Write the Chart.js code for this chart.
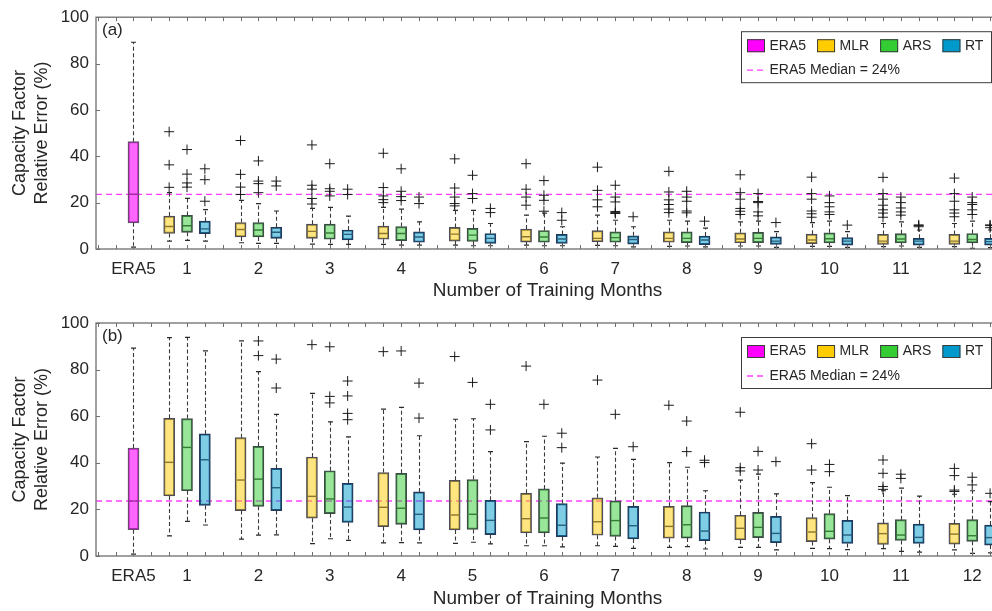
<!DOCTYPE html>
<html>
<head>
<meta charset="utf-8">
<script src="https://cdn.jsdelivr.net/npm/chart.js@4.4.1/dist/chart.umd.min.js"></script>
<style>
  html, body { margin: 0; padding: 0; background: #fff; overflow: hidden; }
  #wrap { width: 1010px; }
  canvas { display: block; }
</style>
</head>
<body>
<div id="wrap">
  <canvas id="panelA" width="1010" height="305"></canvas>
  <canvas id="panelB" width="1010" height="306"></canvas>
</div>
<script>
// ---- data: each box is [whisker low, Q1, median, Q3, whisker high] in % ----
const months = ['1','2','3','4','5','6','7','8','9','10','11','12'];
const methods = ['MLR', 'ARS', 'RT'];

const era5Box = [0.8, 11.3, 23.6, 46.3, 89.2];

// (a)
const mlrA = [
  [3.4, 6.7, 9.7, 14.2, 24.3], [2.7, 5.2, 8.4, 11.4, 21.0], [2.1, 4.6, 7.6, 10.7, 17.5],
  [2.0, 4.2, 6.7, 9.9, 18.0],  [1.7, 3.4, 6.4, 9.3, 16.7],  [1.7, 3.0, 5.3, 8.6, 14.6],
  [1.6, 3.1, 4.6, 7.9, 14.6],  [1.1, 2.9, 4.6, 7.4, 12.4],  [1.3, 2.6, 4.3, 7.0, 11.7],
  [1.1, 2.3, 3.9, 6.4, 11.4],  [1.0, 2.0, 3.4, 6.3, 11.0],  [1.0, 2.0, 3.4, 6.3, 11.0]
];
const arsA = [
  [3.7, 7.2, 10.0, 14.5, 21.8], [2.4, 5.2, 8.2, 11.4, 19.6], [2.0, 4.2, 6.9, 10.7, 18.0],
  [1.7, 3.6, 6.7, 9.7, 17.2],   [1.4, 3.3, 6.0, 8.9, 16.7],  [1.4, 2.9, 5.2, 8.0, 15.5],
  [1.4, 2.9, 4.9, 7.4, 12.4],   [1.3, 2.7, 4.6, 7.4, 12.0],  [1.3, 2.7, 4.6, 7.2, 12.0],
  [1.1, 2.6, 4.4, 7.0, 12.0],   [1.3, 2.6, 4.3, 6.6, 11.7],  [0.3, 2.6, 4.1, 6.7, 12.0]
];
const rtA = [
  [3.4, 6.6, 8.7, 12.0, 17.0], [2.4, 4.6, 7.2, 9.4, 16.4], [2.0, 3.9, 6.3, 8.2, 14.2],
  [1.7, 2.9, 5.2, 7.4, 11.7],  [1.4, 2.4, 4.6, 6.7, 11.0], [1.4, 2.4, 4.3, 6.3, 9.6],
  [0.9, 2.1, 4.1, 5.7, 9.6],   [0.9, 1.9, 3.9, 5.6, 9.0],  [0.7, 2.0, 3.4, 5.2, 7.5],
  [0.7, 1.7, 3.4, 4.9, 7.5],   [0.7, 1.7, 3.4, 4.6, 8.2],  [0.6, 1.7, 3.2, 4.6, 8.2]
];
const mlrAOut = [
  [26.6, 36.3, 50.6], [23.5, 26.7, 32.2, 46.8], [19.4, 21.8, 25.8, 27.5, 44.9],
  [20.0, 21.3, 22.9, 26.5, 41.3], [18.6, 19.6, 22.4, 26.3, 38.9], [18.9, 22.4, 25.8, 36.8],
  [18.2, 21.2, 25.3, 35.3], [15.7, 17.2, 19.2, 21.2, 24.6, 33.5], [14.9, 16.3, 17.5, 21.5, 24.3, 32.0],
  [13.7, 15.2, 16.4, 21.5, 23.9, 31.0], [13.7, 15.5, 16.9, 18.9, 21.5, 23.9, 30.9], [13.9, 15.5, 16.9, 20.6, 23.9, 30.6]
];
const arsAOut = [
  [26.7, 28.5, 32.3, 42.9], [24.3, 28.2, 29.3, 38.0], [22.9, 24.9, 26.0, 36.8],
  [20.9, 22.6, 24.9, 34.6], [21.8, 23.9, 31.8], [16.3, 21.0, 23.2, 29.5],
  [15.3, 15.7, 16.2, 20.3, 22.4, 27.5], [15.6, 16.4, 20.6, 22.4, 24.9], [14.3, 16.0, 20.0, 20.5, 23.9],
  [14.9, 16.0, 18.2, 20.0, 22.9], [14.6, 16.0, 17.7, 20.0, 22.4], [14.9, 16.9, 19.2, 20.0, 22.4]
];
const rtAOut = [
  [20.6, 29.9, 34.6], [27.2, 29.3], [23.5, 25.8], [19.6, 22.4], [15.7, 17.5], [12.4, 15.7],
  [13.9], [12.0], [11.4], [10.3], [9.6, 10.1, 10.4], [9.2, 10.1, 10.4]
];

// (b)
const mlrB = [
  [8.6, 25.8, 40.2, 59.1, 93.7], [7.2, 19.5, 32.6, 50.8, 92.3], [5.3, 16.2, 25.6, 42.5, 69.8],
  [5.6, 12.6, 20.9, 35.8, 63.0], [5.4, 11.2, 17.6, 32.5, 58.7], [4.4, 9.9, 16.0, 26.9, 49.1],
  [4.4, 8.9, 14.7, 25.0, 42.5],  [3.7, 7.6, 12.7, 21.3, 40.1], [3.7, 6.9, 11.9, 17.5, 32.6],
  [3.3, 6.2, 10.3, 16.5, 31.5],  [3.2, 5.0, 9.6, 14.2, 28.0],  [2.6, 5.1, 9.4, 14.0, 26.5]
];
const arsB = [
  [14.9, 28.0, 46.6, 59.0, 93.8], [9.0, 21.3, 33.0, 47.1, 79.1], [7.4, 18.2, 24.5, 36.6, 57.6],
  [5.7, 13.6, 20.5, 35.5, 63.8],  [5.9, 11.4, 17.9, 32.8, 58.9], [4.4, 9.9, 16.3, 28.8, 51.4],
  [4.1, 8.4, 15.2, 23.7, 46.2],   [4.0, 7.7, 13.4, 21.6, 38.1],  [3.7, 7.9, 12.3, 18.7, 35.1],
  [3.2, 7.2, 10.6, 18.2, 29.5],   [2.0, 6.7, 9.0, 15.6, 29.1],   [1.1, 6.3, 8.7, 15.6, 28.0]
];
const rtB = [
  [13.3, 21.7, 41.3, 52.4, 88.0], [9.1, 19.5, 29.3, 37.6, 60.8], [6.7, 14.4, 21.0, 31.2, 51.1],
  [5.6, 11.2, 17.9, 27.5, 51.6],  [5.2, 9.2, 15.3, 23.9, 44.8],  [3.9, 8.3, 13.2, 22.5, 39.9],
  [3.3, 7.3, 13.0, 21.3, 41.5],   [3.0, 6.6, 10.7, 18.9, 28.0],  [2.6, 5.7, 9.7, 17.0, 26.7],
  [2.7, 5.4, 9.0, 15.3, 25.9],    [1.7, 5.4, 8.0, 13.7, 25.7],   [1.3, 4.7, 7.9, 13.3, 23.3]
];
const mlrBOut = [
  [], [], [90.7], [87.7], [85.6], [81.5], [75.5], [64.7],
  [36.5, 37.9, 61.7], [36.9, 48.2], [28.6, 29.8, 35.5, 41.2], [27.7, 28.3, 34.5, 37.6]
];
const arsBOut = [
  [], [86.0, 92.3], [65.7, 68.5, 89.8], [88.0], [74.5], [65.1], [60.8], [44.8, 57.9],
  [36.9, 44.9], [36.2, 39.3], [33.3, 35.1], [30.5, 33.8]
];
const rtBOut = [
  [], [72.1, 84.5], [58.5, 61.2, 68.7, 75.1], [59.2, 74.2], [54.1, 65.1], [46.5, 52.7],
  [46.9], [40.1, 41.1], [40.5], [], [], [26.9]
];

const yTicks = [0, 20, 40, 60, 80, 100];

// ---- styling ----
const FONT = "'Liberation Sans', Arial, Helvetica, sans-serif";
const TEXT = '#262626';
const seriesStyle = {
  ERA5: { swatch: '#ff00ff', fill: 'rgba(255,0,255,0.6)', edge: '#6b4a72', median: '#a02aa0' },
  MLR:  { swatch: '#ffcc00', fill: 'rgba(255,204,0,0.5)', edge: '#4c4c5a', median: '#8a7630' },
  ARS:  { swatch: '#33cc33', fill: 'rgba(51,204,51,0.5)', edge: '#3e4a48', median: '#347c34' },
  RT:   { swatch: '#0099cc', fill: 'rgba(0,153,204,0.5)', edge: '#24385a', median: '#26607e' }
};
const X_MIN = -2.1, X_MAX = 48.5;
const BOX_W = 11;

// slot of a box on the x axis: ERA5 alone at 0, then groups of three with a gap
const era5Slot = 0;
const groupSlot = k => 3 + 4 * k;           // k = 0..11, centre of a month group
const tickSlots = [era5Slot, ...months.map((m, k) => groupSlot(k))];
const tickText = ['ERA5', ...months];

function boxDataset(label, slots, stats) {
  const st = seriesStyle[label];
  return {
    type: 'bar', label,
    data: slots.map((s, i) => ({ x: s, y: [stats[i][1], stats[i][3]] })),
    stats,
    medianColor: st.median,
    backgroundColor: st.fill,
    borderColor: st.edge,
    borderWidth: 1.3,
    borderSkipped: false,
    barThickness: BOX_W,
    grouped: false,
    order: 5
  };
}

function outlierDataset(slotLists) {
  const pts = [];
  slotLists.forEach(({ slots, out }) => {
    out.forEach((list, i) => list.forEach(v => pts.push({ x: slots[i], y: v })));
  });
  return {
    type: 'scatter', label: 'outliers', data: pts,
    pointStyle: 'cross', radius: 5, hoverRadius: 5,
    borderColor: '#1a1a1a', borderWidth: 1, order: 1
  };
}

// whiskers, caps and median bars for every box
const boxDetails = {
  id: 'boxDetails',
  afterDatasetsDraw(chart) {
    const { ctx, chartArea: a, scales: { x, y } } = chart;
    ctx.save();
    ctx.beginPath(); ctx.rect(a.left, a.top, a.width, a.height); ctx.clip();
    chart.data.datasets.forEach(ds => {
      if (!ds.stats) return;
      ds.stats.forEach((s, i) => {
        const px = Math.round(x.getPixelForValue(ds.data[i].x)) + 0.5;
        const [lo, q1, med, q3, hi] = s.map(v => y.getPixelForValue(v));
        ctx.strokeStyle = '#3a3a3a';
        ctx.lineWidth = 1.1;
        ctx.setLineDash([4, 2.5]);
        ctx.beginPath();
        ctx.moveTo(px, q3); ctx.lineTo(px, hi);
        ctx.moveTo(px, q1); ctx.lineTo(px, lo);
        ctx.stroke();
        ctx.setLineDash([]);
        ctx.strokeStyle = '#2a2a2a';
        ctx.lineWidth = 1.2;
        ctx.beginPath();
        ctx.moveTo(px - 2.5, hi); ctx.lineTo(px + 2.5, hi);
        ctx.moveTo(px - 2.5, lo); ctx.lineTo(px + 2.5, lo);
        ctx.stroke();
        ctx.strokeStyle = ds.medianColor;
        ctx.lineWidth = 1.4;
        ctx.beginPath();
        ctx.moveTo(px - BOX_W / 2 + 1, med); ctx.lineTo(px + BOX_W / 2 - 1, med);
        ctx.stroke();
      });
    });
    ctx.restore();
  }
};

// frame, inward ticks, y title, panel tag and legend
const decorations = {
  id: 'decorations',
  afterDraw(chart) {
    const { ctx, chartArea: a, scales: { x, y } } = chart;
    const tag = chart.options.plugins.decorations.tag;
    ctx.save();
    // frame
    ctx.strokeStyle = '#6e6e6e';
    ctx.lineWidth = 1.3;
    ctx.strokeRect(a.left, a.top, a.width, a.height);
    ctx.lineWidth = 1;
    ctx.beginPath();
    for (let v = Math.ceil(X_MIN); v <= Math.floor(X_MAX); v++) {
      const px = Math.round(x.getPixelForValue(v)) + 0.5;
      ctx.moveTo(px, a.bottom); ctx.lineTo(px, a.bottom - 4);
      ctx.moveTo(px, a.top); ctx.lineTo(px, a.top + 4);
    }
    yTicks.forEach(v => {
      const py = Math.round(y.getPixelForValue(v)) + 0.5;
      ctx.moveTo(a.left, py); ctx.lineTo(a.left + 4, py);
    });
    ctx.stroke();

    // y axis title, two lines
    ctx.fillStyle = TEXT;
    ctx.font = `18px ${FONT}`;
    ctx.textAlign = 'center';
    ctx.textBaseline = 'middle';
    const cy = (a.top + a.bottom) / 2;
    ctx.save();
    ctx.translate(20, cy); ctx.rotate(-Math.PI / 2);
    ctx.fillText('Capacity Factor', 0, 0);
    ctx.restore();
    ctx.save();
    ctx.translate(42, cy); ctx.rotate(-Math.PI / 2);
    ctx.fillText('Relative Error (%)', 0, 0);
    ctx.restore();

    // panel tag
    ctx.font = `17px ${FONT}`;
    ctx.textAlign = 'left';
    ctx.fillText(tag, a.left + 6, a.top + 13);

    // legend
    const L = { left: 741, top: a.top + 14, right: a.right - 8, bottom: a.top + 65 };
    ctx.fillStyle = '#fff';
    ctx.fillRect(L.left, L.top, L.right - L.left, L.bottom - L.top);
    ctx.strokeStyle = '#3c3c3c';
    ctx.lineWidth = 1;
    ctx.strokeRect(L.left + 0.5, L.top + 0.5, L.right - L.left, L.bottom - L.top);
    ctx.font = `14px ${FONT}`;
    ctx.textBaseline = 'middle';
    const row1 = L.top + 14.5, row2 = L.top + 39;
    let lx = L.left + 6;
    ['ERA5', ...methods].forEach(name => {
      ctx.fillStyle = seriesStyle[name].swatch;
      ctx.fillRect(lx, row1 - 6.5, 18, 13);
      ctx.strokeStyle = '#3c3c3c';
      ctx.strokeRect(lx + 0.5, row1 - 6.5 + 0.5, 17, 12);
      ctx.fillStyle = TEXT;
      ctx.fillText(name, lx + 22.5, row1);
      lx += 22.5 + ctx.measureText(name).width + 11;
    });
    ctx.strokeStyle = '#ff40ff';
    ctx.lineWidth = 1.3;
    ctx.setLineDash([6, 4]);
    ctx.beginPath();
    ctx.moveTo(L.left + 6, row2); ctx.lineTo(L.left + 25, row2);
    ctx.stroke();
    ctx.setLineDash([]);
    ctx.fillStyle = TEXT;
    ctx.fillText(`ERA5 Median = ${Math.round(era5Box[2])}%`, L.left + 28.5, row2);
    ctx.restore();
  }
};

function makePanel(id, tag, sets, topPad, axisH, titleBottom) {
  const datasets = [];
  datasets.push({
    type: 'line', label: 'ERA5 median',
    data: [{ x: X_MIN, y: era5Box[2] }, { x: X_MAX, y: era5Box[2] }],
    borderColor: '#ff40ff', borderWidth: 1.3, borderDash: [6, 4],
    pointRadius: 0, fill: false, order: 10
  });
  datasets.push(boxDataset('ERA5', [era5Slot], [era5Box]));
  const slotLists = [];
  methods.forEach((m, j) => {
    const slots = months.map((_, k) => groupSlot(k) + (j - 1));
    datasets.push(boxDataset(m, slots, sets[m].box));
    slotLists.push({ slots, out: sets[m].out });
  });
  datasets.push(outlierDataset(slotLists));

  return new Chart(document.getElementById(id), {
    type: 'bar',
    data: { datasets },
    options: {
      responsive: false,
      animation: false,
      devicePixelRatio: 1,
      layout: { padding: { top: topPad, right: 11, left: 0, bottom: 0 } },
      plugins: {
        legend: { display: false },
        tooltip: { enabled: false },
        decorations: { tag }
      },
      scales: {
        x: {
          type: 'linear', min: X_MIN, max: X_MAX, offset: false,
          afterBuildTicks: s => { s.ticks = tickSlots.map(v => ({ value: v })); },
          afterFit: s => { s.height = axisH; },
          ticks: {
            autoSkip: false, maxRotation: 0, padding: 10,
            font: { family: FONT, size: 17 }, color: TEXT,
            callback: v => { const i = tickSlots.indexOf(v); return i >= 0 ? tickText[i] : ''; }
          },
          grid: { display: false, drawTicks: false, offset: false },
          border: { display: false },
          title: {
            display: true, text: 'Number of Training Months',
            font: { family: FONT, size: 19 }, color: TEXT,
            padding: { top: 0, bottom: titleBottom }
          }
        },
        y: {
          min: 0, max: 100,
          afterBuildTicks: s => { s.ticks = yTicks.map(v => ({ value: v })); },
          afterFit: s => { s.width = 96; },
          ticks: { padding: 7, font: { family: FONT, size: 17 }, color: TEXT },
          grid: { display: false, drawTicks: false },
          border: { display: false }
        }
      }
    },
    plugins: [boxDetails, decorations]
  });
}

makePanel('panelA', '(a)', {
  MLR: { box: mlrA, out: mlrAOut },
  ARS: { box: arsA, out: arsAOut },
  RT:  { box: rtA,  out: rtAOut }
}, 16, 56, 3);

makePanel('panelB', '(b)', {
  MLR: { box: mlrB, out: mlrBOut },
  ARS: { box: arsB, out: arsBOut },
  RT:  { box: rtB,  out: rtBOut }
}, 18, 55, 1);
</script>
</body>
</html>
